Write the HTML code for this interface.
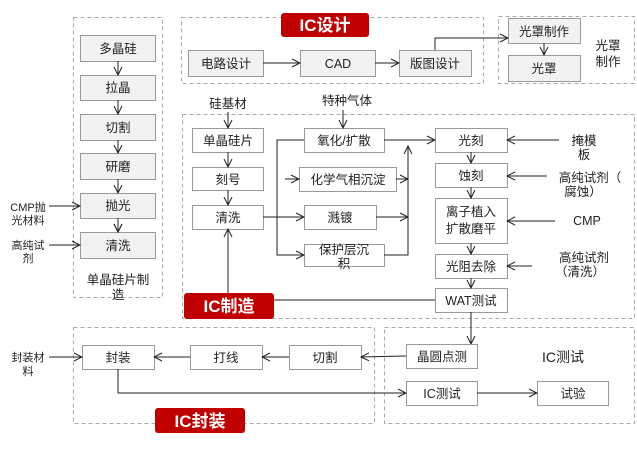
<!DOCTYPE html>
<html><head><meta charset="utf-8"><style>
html,body{margin:0;padding:0;background:#fff;}
svg{display:block;}
text{font-family:"Liberation Sans","Noto Sans CJK SC",sans-serif;font-size:12.5px;fill:#222;}
.b{fill:#f2f2f2;stroke:#999;stroke-width:1;}
.w{fill:#fff;stroke:#999;stroke-width:1;}
.d{fill:none;stroke:#aaa;stroke-width:1;stroke-dasharray:4 3;}
.l{fill:none;stroke:#222;stroke-width:1;}
.r{fill:#c00000;}
.rt{fill:#fff;font-weight:bold;font-size:17px;}
</style></head><body>
<svg width="637" height="458" viewBox="0 0 637 458" xmlns="http://www.w3.org/2000/svg">
<defs><marker id="a" markerWidth="10" markerHeight="10" refX="9" refY="5" orient="auto" markerUnits="userSpaceOnUse"><path d="M1,1 L9,5 L1,9" fill="none" stroke="#222" stroke-width="1"/></marker></defs>

<!-- dashed groups -->
<rect class="d" x="73.5" y="17.5" width="89" height="280"/>
<rect class="d" x="181.5" y="17.5" width="302" height="66"/>
<rect class="d" x="498.5" y="16.5" width="136" height="67"/>
<rect class="d" x="182.5" y="114.5" width="452" height="204"/>
<rect class="d" x="73.5" y="327.5" width="301" height="96"/>
<rect class="d" x="384.5" y="327.5" width="250" height="96"/>

<!-- left column -->
<g text-anchor="middle">
<rect class="b" x="80.5" y="35.5" width="75" height="26"/><text x="118" y="53">多晶硅</text>
<rect class="b" x="80.5" y="75.5" width="75" height="25"/><text x="118" y="92">拉晶</text>
<rect class="b" x="80.5" y="114.5" width="75" height="26"/><text x="118" y="132">切割</text>
<rect class="b" x="80.5" y="153.5" width="75" height="26"/><text x="118" y="171">研磨</text>
<rect class="b" x="80.5" y="193.5" width="75" height="25"/><text x="118" y="210">抛光</text>
<rect class="b" x="80.5" y="232.5" width="75" height="26"/><text x="118" y="250">清洗</text>
<text x="118" y="284">单晶硅片制</text><text x="118" y="299">造</text>
<text x="28" y="211" style="font-size:11px">CMP抛</text><text x="28" y="224" style="font-size:11px">光材料</text>
<text x="28" y="249" style="font-size:11px">高纯试</text><text x="28" y="262" style="font-size:11px">剂</text>
</g>
<path class="l" d="M118 61V75M118 100V114M118 140V153M118 179V193M118 218V232" marker-end="url(#a)"/>
<line class="l" x1="118" y1="61" x2="118" y2="75" marker-end="url(#a)"/>
<line class="l" x1="118" y1="100" x2="118" y2="114" marker-end="url(#a)"/>
<line class="l" x1="118" y1="140" x2="118" y2="153" marker-end="url(#a)"/>
<line class="l" x1="118" y1="179" x2="118" y2="193" marker-end="url(#a)"/>
<line class="l" x1="118" y1="218" x2="118" y2="232" marker-end="url(#a)"/>
<line class="l" x1="49" y1="206" x2="80" y2="206" marker-end="url(#a)"/>
<line class="l" x1="49" y1="245" x2="80" y2="245" marker-end="url(#a)"/>

<!-- IC design -->
<rect class="r" x="281" y="13" width="88" height="24" rx="3"/><text class="rt" x="325" y="31" text-anchor="middle">IC设计</text>
<g text-anchor="middle">
<rect class="b" x="188.5" y="50.5" width="75" height="26"/><text x="226" y="68">电路设计</text>
<rect class="b" x="300.5" y="50.5" width="75" height="26"/><text x="338" y="68">CAD</text>
<rect class="b" x="399.5" y="50.5" width="72" height="26"/><text x="435" y="68">版图设计</text>
<rect class="b" x="508.5" y="18.5" width="72" height="25"/><text x="544" y="36">光罩制作</text>
<rect class="b" x="508.5" y="55.5" width="72" height="26"/><text x="544" y="73">光罩</text>
<text x="608" y="50">光罩</text><text x="608" y="66">制作</text>
</g>
<line class="l" x1="263" y1="63" x2="300" y2="63" marker-end="url(#a)"/>
<line class="l" x1="375" y1="63" x2="399" y2="63" marker-end="url(#a)"/>
<path class="l" d="M435 50V38H508" marker-end="url(#a)"/>
<line class="l" x1="544" y1="43" x2="544" y2="55" marker-end="url(#a)"/>

<!-- IC manufacturing -->
<g text-anchor="middle">
<text x="228" y="108">硅基材</text>
<text x="347" y="105">特种气体</text>
<rect class="w" x="192.5" y="128.5" width="71" height="24"/><text x="228" y="145">单晶硅片</text>
<rect class="w" x="192.5" y="167.5" width="71" height="23"/><text x="228" y="184">刻号</text>
<rect class="w" x="192.5" y="205.5" width="71" height="24"/><text x="228" y="222">清洗</text>
<rect class="w" x="304.5" y="128.5" width="80" height="24"/><text x="344" y="145">氧化/扩散</text>
<rect class="w" x="299.5" y="167.5" width="97" height="24"/><text x="348" y="184">化学气相沉淀</text>
<rect class="w" x="304.5" y="205.5" width="72" height="24"/><text x="340" y="222">溅镀</text>
<rect class="w" x="304.5" y="244.5" width="80" height="22"/><text x="344" y="254">保护层沉</text><text x="344" y="268">积</text>
<rect class="w" x="435.5" y="128.5" width="72" height="24"/><text x="471" y="145">光刻</text>
<rect class="w" x="435.5" y="163.5" width="72" height="24"/><text x="471" y="180">蚀刻</text>
<rect class="w" x="435.5" y="198.5" width="72" height="45"/><text x="471" y="216">离子植入</text><text x="471" y="233">扩散磨平</text>
<rect class="w" x="435.5" y="254.5" width="72" height="24"/><text x="471" y="271">光阻去除</text>
<rect class="w" x="435.5" y="288.5" width="72" height="24"/><text x="471" y="305">WAT测试</text>
<text x="584" y="145">掩模</text><text x="584" y="159">板</text>
<text x="590" y="182">高纯试剂（</text><text x="583" y="196">腐蚀）</text>
<text x="587" y="225">CMP</text>
<text x="584" y="262">高纯试剂</text><text x="580" y="276">（清洗）</text>
</g>
<line class="l" x1="228" y1="112" x2="228" y2="128" marker-end="url(#a)"/>
<line class="l" x1="343" y1="110" x2="343" y2="128" marker-end="url(#a)"/>
<line class="l" x1="228" y1="152" x2="228" y2="167" marker-end="url(#a)"/>
<line class="l" x1="228" y1="190" x2="228" y2="205" marker-end="url(#a)"/>
<path class="l" d="M304 140H277V255H304" marker-end="url(#a)"/>
<line class="l" x1="263" y1="217" x2="304" y2="217" marker-end="url(#a)"/>
<line class="l" x1="285" y1="179" x2="299" y2="179" marker-end="url(#a)"/>
<line class="l" x1="384" y1="140" x2="435" y2="140" marker-end="url(#a)"/>
<path class="l" d="M384 255H408V146" marker-end="url(#a)"/>
<line class="l" x1="396" y1="179" x2="408" y2="179" marker-end="url(#a)"/>
<line class="l" x1="376" y1="217" x2="408" y2="217" marker-end="url(#a)"/>
<line class="l" x1="471" y1="152" x2="471" y2="163" marker-end="url(#a)"/>
<line class="l" x1="471" y1="187" x2="471" y2="198" marker-end="url(#a)"/>
<line class="l" x1="471" y1="243" x2="471" y2="254" marker-end="url(#a)"/>
<line class="l" x1="471" y1="278" x2="471" y2="288" marker-end="url(#a)"/>
<line class="l" x1="559" y1="140" x2="507" y2="140" marker-end="url(#a)"/>
<line class="l" x1="547" y1="176" x2="507" y2="176" marker-end="url(#a)"/>
<line class="l" x1="555" y1="221" x2="507" y2="221" marker-end="url(#a)"/>
<line class="l" x1="532" y1="266" x2="507" y2="266" marker-end="url(#a)"/>
<line class="l" x1="270" y1="300" x2="435" y2="300"/>
<line class="l" x1="228" y1="296" x2="228" y2="229" marker-end="url(#a)"/>
<rect class="r" x="184" y="293" width="90" height="26" rx="3"/><text class="rt" x="229" y="312" text-anchor="middle">IC制造</text>
<line class="l" x1="471" y1="312" x2="471" y2="344" marker-end="url(#a)"/>

<!-- packaging / test -->
<g text-anchor="middle">
<rect class="w" x="82.5" y="345.5" width="72" height="24"/><text x="118" y="362">封装</text>
<rect class="w" x="190.5" y="345.5" width="72" height="24"/><text x="226" y="362">打线</text>
<rect class="w" x="289.5" y="345.5" width="72" height="24"/><text x="325" y="362">切割</text>
<rect class="w" x="406.5" y="344.5" width="71" height="24"/><text x="442" y="361">晶圆点测</text>
<rect class="w" x="406.5" y="381.5" width="71" height="24"/><text x="442" y="398">IC测试</text>
<rect class="w" x="537.5" y="381.5" width="71" height="24"/><text x="573" y="398">试验</text>
<text x="563" y="362" style="font-size:14px">IC测试</text>
<text x="28" y="361" style="font-size:11px">封装材</text><text x="28" y="375" style="font-size:11px">料</text>
</g>
<line class="l" x1="49" y1="357" x2="82" y2="357" marker-end="url(#a)"/>
<line class="l" x1="406" y1="356" x2="361" y2="357" marker-end="url(#a)"/>
<line class="l" x1="289" y1="357" x2="262" y2="357" marker-end="url(#a)"/>
<line class="l" x1="190" y1="357" x2="154" y2="357" marker-end="url(#a)"/>
<path class="l" d="M118 369V393H406" marker-end="url(#a)"/>
<line class="l" x1="477" y1="393" x2="537" y2="393" marker-end="url(#a)"/>
<rect class="r" x="155" y="408" width="90" height="25" rx="3"/><text class="rt" x="200" y="427" text-anchor="middle">IC封装</text>
</svg>
</body></html>
